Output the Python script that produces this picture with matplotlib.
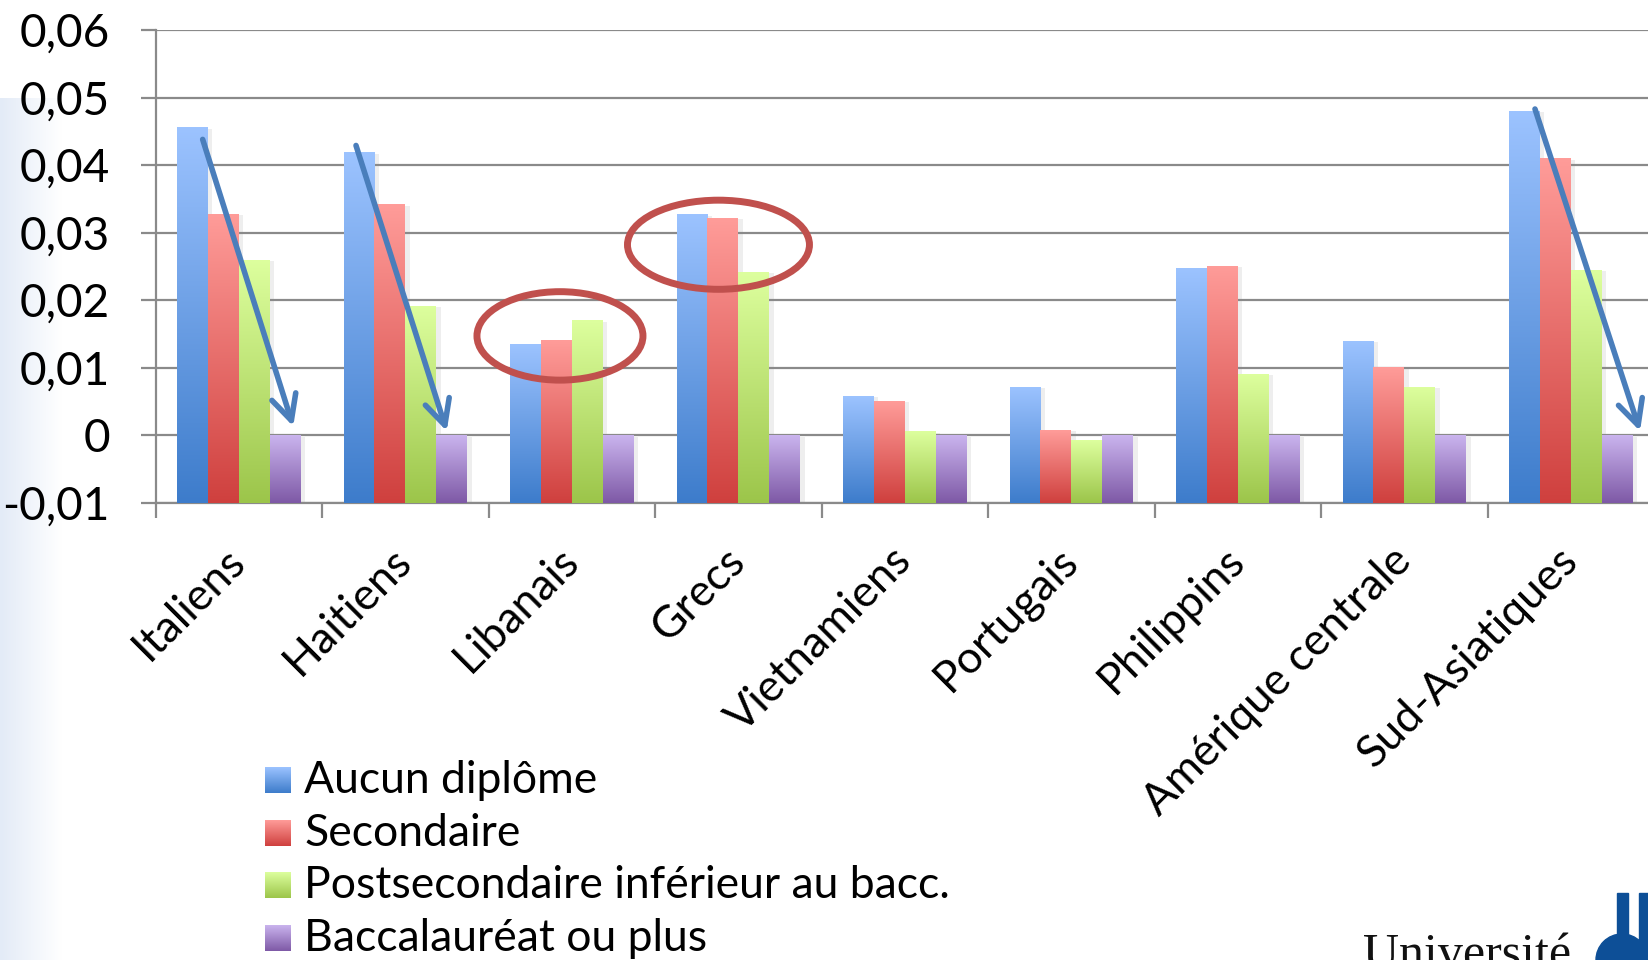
import numpy as np
import matplotlib
matplotlib.use("Agg")
import matplotlib.pyplot as plt
from matplotlib.colors import to_rgb
from matplotlib.patches import Ellipse, Rectangle
from matplotlib import patheffects as pe

# data
categories = ["Italiens", "Haitiens", "Libanais", "Grecs", "Vietnamiens",
              "Portugais", "Philippins", "Amérique centrale", "Sud-Asiatiques"]
series_names = ["Aucun diplôme", "Secondaire",
                "Postsecondaire inférieur au bacc.", "Baccalauréat ou plus"]
aucun_diplome = [0.0456, 0.0419, 0.0135, 0.0327, 0.0058, 0.0072, 0.0248, 0.0140, 0.0480]
secondaire = [0.0328, 0.0342, 0.0141, 0.0322, 0.0051, 0.0008, 0.0251, 0.0101, 0.0410]
postsecondaire = [0.0260, 0.0192, 0.0170, 0.0242, 0.0006, -0.0007, 0.0091, 0.0072, 0.0245]
baccalaureat = [0, 0, 0, 0, 0, 0, 0, 0, 0]
yticks = [-0.01, 0, 0.01, 0.02, 0.03, 0.04, 0.05, 0.06]
ytick_labels = ["-0,01", "0", "0,01", "0,02", "0,03", "0,04", "0,05", "0,06"]

# annotations: arrows (start, end) and ellipses (center, w, h) in data units
arrow_starts = [(-0.218, 0.0438), (0.703, 0.0429), (7.784, 0.0483)]
arrow_ends = [(0.326, 0.0013), (1.248, 0.0006), (8.415, 0.0006)]
ellipse_centers = [(1.928, 0.0147), (2.88, 0.0282)]
ellipse_sizes = [(0.997, 0.0131), (1.093, 0.0132)]

# gradient colours (top, bottom) per series
grad_colors = [("#9cc3ff", "#3d7ccb"), ("#ff9c99", "#cf403e"),
               ("#ddff9e", "#9cc54a"), ("#cab4ee", "#7e59a6")]

plt.rcParams['font.family'] = ['Lato', 'DejaVu Sans']

W, H = 1648, 960
fig = plt.figure(figsize=(W / 100, H / 100), dpi=100)

# background layer in pixel coordinates
bg = fig.add_axes([0, 0, 1, 1], zorder=-1)
bg.set_xlim(0, W)
bg.set_ylim(H, 0)
bg.axis('off')
strip = np.linspace(0, 1, 64)
c0 = np.array(to_rgb("#e3ebf7"))
strip_img = c0[None, :] * (1 - strip[:, None]) + np.ones(3)[None, :] * strip[:, None]
bg.imshow(strip_img[None, :, :], extent=[0, 62, H, 98], aspect='auto')

# main chart
left_px, top_px, bottom_px, cat_px = 155.7, 30.0, 502.7, 166.5
ax = fig.add_axes([left_px / W, 1 - bottom_px / H, 9 * cat_px / W, (bottom_px - top_px) / H])
ax.set_facecolor('none')

series = [aucun_diplome, secondaire, postsecondaire, baccalaureat]
x = np.arange(len(categories))
bw = 0.186
base = -0.01


def vgrad(top, bottom, n=256):
    t = np.linspace(0, 1, n)[:, None]
    a, b = np.array(to_rgb(bottom)), np.array(to_rgb(top))
    return (a * (1 - t) + b * t)[:, None, :]


for k, vals in enumerate(series):
    heights = np.array(vals) - base
    bars = ax.bar(x + (k - 1.5) * bw, heights, width=bw, bottom=base,
                  color=grad_colors[k][1], linewidth=0, zorder=3,
                  path_effects=[pe.SimplePatchShadow(offset=(3, -1), shadow_rgbFace='#909090', alpha=0.15),
                                pe.Normal()])
    img = vgrad(*grad_colors[k])
    for b in bars:
        x0, y0, w, h = b.get_x(), b.get_y(), b.get_width(), b.get_height()
        im = ax.imshow(img, extent=[x0, x0 + w, y0, y0 + h], origin='lower',
                       aspect='auto', zorder=3.1, interpolation='bilinear')
        im.set_clip_path(b)

ax.set_xlim(-0.5, len(categories) - 0.5)
ax.set_ylim(-0.01, 0.06)

grid_c = '#8a8a8a'
ax.set_yticks(yticks)
ax.set_yticklabels(ytick_labels, fontsize=33)
ax.yaxis.grid(True, color=grid_c, linewidth=1.6, zorder=0)
ax.set_axisbelow(True)
ax.tick_params(axis='y', length=11, width=1.6, color=grid_c, pad=22)

ax.set_xticks(x)
ax.set_xticklabels(categories, fontsize=32, rotation=45, ha='right', va='center',
                   rotation_mode='anchor')
ax.set_xticks(np.arange(-0.5, len(categories) + 0.5, 1), minor=True)
ax.tick_params(axis='x', which='major', length=0, pad=37)
ax.tick_params(axis='x', which='minor', length=11, width=1.6, color=grid_c)

for s in ['top', 'right']:
    ax.spines[s].set_visible(False)
for s in ['left', 'bottom']:
    ax.spines[s].set_color(grid_c)
    ax.spines[s].set_linewidth(1.6)

# arrows
for (xs, ys), (xe, ye) in zip(arrow_starts, arrow_ends):
    ax.annotate("", xy=(xe, ye), xytext=(xs, ys), zorder=6,
                arrowprops=dict(arrowstyle='->,head_length=0.6,head_width=0.3',
                                mutation_scale=30, lw=4, color='#4a7ebb',
                                shrinkA=0, shrinkB=0))

# ellipses
for (cx, cy), (ew, eh) in zip(ellipse_centers, ellipse_sizes):
    ax.add_patch(Ellipse((cx, cy), ew, eh, fill=False, edgecolor='#c0504d', lw=5, zorder=6))

# legend drawn by hand
legend_baselines = [793, 846, 898, 951]
for k, name in enumerate(series_names):
    yb = legend_baselines[k]
    bg.imshow(vgrad(*grad_colors[k])[::-1], extent=[265, 291, yb, yb - 26], aspect='auto')
    bg.text(304, yb, name, fontsize=32, va='baseline', ha='left')

# university logo (partially visible, cut by the slide edge as in the source)
bg.text(1363, 968, "Université", family='Liberation Serif', fontsize=36,
        va='baseline', ha='left', color='#111111')
logo_c = '#0d4f97'
bg.add_patch(Rectangle((1617, 893), 11, 60, color=logo_c))
bg.add_patch(Rectangle((1639, 893), 11, 60, color=logo_c))
bg.add_patch(Ellipse((1622, 960), 52, 52, color=logo_c))

fig.savefig("out.png", dpi=100)
